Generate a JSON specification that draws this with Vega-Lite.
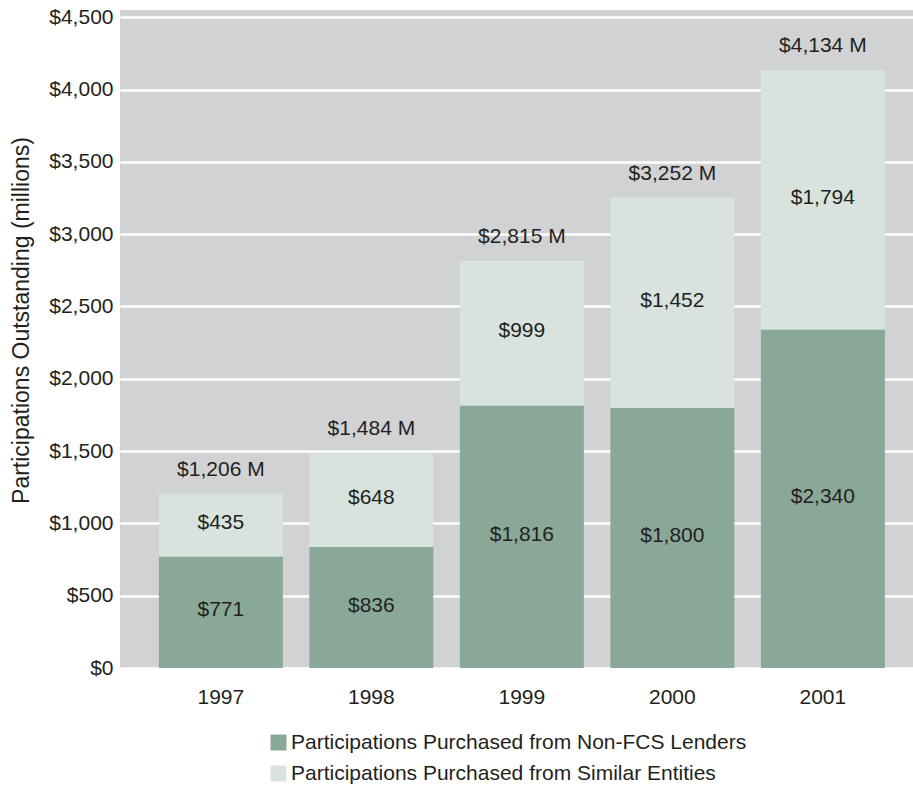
{
  "$schema": "https://vega.github.io/schema/vega-lite/v6.json",
  "width": 793,
  "height": 658,
  "autosize": {"type": "none"},
  "padding": {"left": 120, "top": 10, "right": 0, "bottom": 120},
  "background": "white",
  "config": {
    "font": "Liberation Sans",
    "view": {"fill": "#d1d2d4", "stroke": null},
    "axis": {"labelFont": "Liberation Sans", "titleFont": "Liberation Sans", "labelColor": "#231f20", "titleColor": "#231f20"},
    "legend": {"labelFont": "Liberation Sans"}
  },
  "data": {
    "values": [
      {"year": "1997", "series": "Participations Purchased from Non-FCS Lenders", "value": 771},
      {"year": "1997", "series": "Participations Purchased from Similar Entities", "value": 435},
      {"year": "1998", "series": "Participations Purchased from Non-FCS Lenders", "value": 836},
      {"year": "1998", "series": "Participations Purchased from Similar Entities", "value": 648},
      {"year": "1999", "series": "Participations Purchased from Non-FCS Lenders", "value": 1816},
      {"year": "1999", "series": "Participations Purchased from Similar Entities", "value": 999},
      {"year": "2000", "series": "Participations Purchased from Non-FCS Lenders", "value": 1800},
      {"year": "2000", "series": "Participations Purchased from Similar Entities", "value": 1452},
      {"year": "2001", "series": "Participations Purchased from Non-FCS Lenders", "value": 2340},
      {"year": "2001", "series": "Participations Purchased from Similar Entities", "value": 1794}
    ]
  },
  "layer": [
    {
      "transform": [
        {"stack": "value", "groupby": ["year"], "sort": [{"field": "series", "order": "ascending"}], "as": ["y0", "y1"]}
      ],
      "mark": {"type": "bar"},
      "encoding": {
        "x": {
          "field": "year", "type": "nominal",
          "scale": {"paddingInner": 0.176, "paddingOuter": 0.2226, "align": 0.58},
          "axis": {"title": null, "labelAngle": 0, "labelFontSize": 21, "labelPadding": 18, "ticks": false, "domain": false, "grid": false}
        },
        "y": {
          "field": "y0", "type": "quantitative",
          "scale": {"domain": [0, 4550], "nice": false, "zero": true},
          "axis": {
            "title": "Participations Outstanding (millions)",
            "titleFontSize": 23, "titleFontWeight": "normal",
            "titleX": -99, "titleY": 310, "titleAngle": -90, "titleAlign": "center", "titleBaseline": "middle",
            "values": [0, 500, 1000, 1500, 2000, 2500, 3000, 3500, 4000, 4500],
            "format": "$,.0f", "labelFontSize": 21, "labelPadding": 7,
            "ticks": false, "domain": false,
            "grid": true, "gridColor": "white", "gridWidth": 2.7
          }
        },
        "y2": {"field": "y1"},
        "color": {
          "field": "series", "type": "nominal",
          "scale": {
            "domain": ["Participations Purchased from Non-FCS Lenders", "Participations Purchased from Similar Entities"],
            "range": ["#8aa898", "#d8e3de"]
          },
          "legend": {
            "title": null, "orient": "none", "legendX": 148, "legendY": 722, "direction": "vertical",
            "symbolType": "square", "symbolSize": 256, "symbolStrokeWidth": 0, "symbolOpacity": 1,
            "labelFontSize": 21, "labelColor": "#231f20", "labelOffset": 2, "rowPadding": 9, "labelLimit": 600
          }
        }
      }
    },
    {
      "transform": [
        {"stack": "value", "groupby": ["year"], "sort": [{"field": "series", "order": "ascending"}], "as": ["y0", "y1"]},
        {"calculate": "(datum.y0 + datum.y1) / 2", "as": "mid"}
      ],
      "mark": {"type": "text", "fontSize": 21, "color": "#231f20", "baseline": "middle", "dy": -2},
      "encoding": {
        "x": {"field": "year", "type": "nominal"},
        "y": {"field": "mid", "type": "quantitative"},
        "text": {"field": "value", "type": "quantitative", "format": "$,.0f"}
      }
    },
    {
      "transform": [
        {"aggregate": [{"op": "sum", "field": "value", "as": "total"}], "groupby": ["year"]},
        {"calculate": "format(datum.total, '$,.0f') + ' M'", "as": "label"}
      ],
      "mark": {"type": "text", "fontSize": 21, "color": "#231f20", "baseline": "middle", "dy": -24},
      "encoding": {
        "x": {"field": "year", "type": "nominal"},
        "y": {"field": "total", "type": "quantitative"},
        "text": {"field": "label", "type": "nominal"}
      }
    }
  ]
}
